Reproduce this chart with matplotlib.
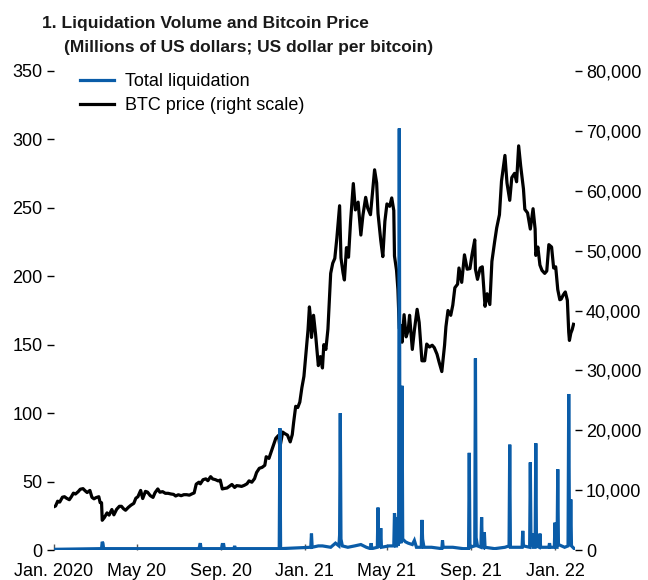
"""
Liquidation volume vs. Bitcoin price, Jan 2020 - Jan 2022
"""
import matplotlib
matplotlib.use('Agg')
import matplotlib.pyplot as plt
from matplotlib.lines import Line2D
import pandas as pd

# ── Fonts / colours ───────────────────────────────────────────────────────
plt.rcParams['font.family'] = ['Liberation Sans', 'DejaVu Sans']
BLUE  = '#0a5ca8'
BLACK = '#000000'
INK   = '#1a1a1a'

# ══════════════════════════════════════════════════════════════════════════
# DATA
# ══════════════════════════════════════════════════════════════════════════

# BTC price (US dollar per bitcoin), right scale
btc_dates = [
    '2020-01-01', '2020-01-04', '2020-01-07', '2020-01-10', '2020-01-14', '2020-01-17',
    '2020-01-20', '2020-01-24', '2020-01-27', '2020-01-30', '2020-02-02', '2020-02-06',
    '2020-02-09', '2020-02-13', '2020-02-16', '2020-02-19', '2020-02-23', '2020-02-26',
    '2020-02-29', '2020-03-03', '2020-03-07', '2020-03-09', '2020-03-11', '2020-03-12',
    '2020-03-15', '2020-03-19', '2020-03-22', '2020-03-26', '2020-03-29', '2020-04-02',
    '2020-04-06', '2020-04-09', '2020-04-12', '2020-04-15', '2020-04-19', '2020-04-23',
    '2020-04-27', '2020-04-30', '2020-05-03', '2020-05-07', '2020-05-10', '2020-05-14',
    '2020-05-17', '2020-05-21', '2020-05-25', '2020-05-28', '2020-06-01', '2020-06-04',
    '2020-06-08', '2020-06-12', '2020-06-16', '2020-06-20', '2020-06-24', '2020-06-27',
    '2020-07-01', '2020-07-05', '2020-07-09', '2020-07-13', '2020-07-17', '2020-07-21',
    '2020-07-24', '2020-07-27', '2020-07-31', '2020-08-02', '2020-08-06', '2020-08-10',
    '2020-08-13', '2020-08-17', '2020-08-20', '2020-08-24', '2020-08-28', '2020-08-31',
    '2020-09-03', '2020-09-06', '2020-09-10', '2020-09-14', '2020-09-17', '2020-09-21',
    '2020-09-24', '2020-09-28', '2020-10-01', '2020-10-05', '2020-10-09', '2020-10-12',
    '2020-10-16', '2020-10-20', '2020-10-23', '2020-10-27', '2020-10-31', '2020-11-04',
    '2020-11-06', '2020-11-10', '2020-11-13', '2020-11-17', '2020-11-20', '2020-11-24',
    '2020-11-26', '2020-11-30', '2020-12-03', '2020-12-07', '2020-12-11', '2020-12-14',
    '2020-12-16', '2020-12-19', '2020-12-22', '2020-12-25', '2020-12-28', '2020-12-31',
    '2021-01-03', '2021-01-06', '2021-01-08', '2021-01-10', '2021-01-11', '2021-01-14',
    '2021-01-17', '2021-01-21', '2021-01-24', '2021-01-27', '2021-01-29', '2021-02-01',
    '2021-02-04', '2021-02-08', '2021-02-11', '2021-02-14', '2021-02-17', '2021-02-21',
    '2021-02-23', '2021-02-26', '2021-02-28', '2021-03-03', '2021-03-06', '2021-03-09',
    '2021-03-13', '2021-03-16', '2021-03-20', '2021-03-24', '2021-03-27', '2021-03-31',
    '2021-04-03', '2021-04-07', '2021-04-10', '2021-04-13', '2021-04-16', '2021-04-18',
    '2021-04-22', '2021-04-25', '2021-04-28', '2021-05-01', '2021-05-05', '2021-05-08',
    '2021-05-11', '2021-05-12', '2021-05-15', '2021-05-17', '2021-05-19', '2021-05-22',
    '2021-05-23', '2021-05-26', '2021-05-29', '2021-06-01', '2021-06-03', '2021-06-07',
    '2021-06-10', '2021-06-14', '2021-06-17', '2021-06-21', '2021-06-25', '2021-06-28',
    '2021-07-02', '2021-07-06', '2021-07-09', '2021-07-13', '2021-07-16', '2021-07-20',
    '2021-07-24', '2021-07-26', '2021-07-29', '2021-08-02', '2021-08-05', '2021-08-08',
    '2021-08-12', '2021-08-14', '2021-08-18', '2021-08-22', '2021-08-26', '2021-08-30',
    '2021-09-02', '2021-09-06', '2021-09-07', '2021-09-10', '2021-09-14', '2021-09-17',
    '2021-09-21', '2021-09-24', '2021-09-28', '2021-10-01', '2021-10-05', '2021-10-08',
    '2021-10-12', '2021-10-15', '2021-10-20', '2021-10-23', '2021-10-27', '2021-10-30',
    '2021-11-03', '2021-11-06', '2021-11-09', '2021-11-12', '2021-11-16', '2021-11-18',
    '2021-11-22', '2021-11-26', '2021-11-30', '2021-12-03', '2021-12-04', '2021-12-07',
    '2021-12-10', '2021-12-13', '2021-12-17', '2021-12-20', '2021-12-23', '2021-12-27',
    '2021-12-30', '2022-01-02', '2022-01-05', '2022-01-08', '2022-01-10', '2022-01-13',
    '2022-01-16', '2022-01-19', '2022-01-21', '2022-01-22', '2022-01-24', '2022-01-26',
    '2022-01-28',
]
btc_price = [
    7200, 7350, 8150, 8000, 8820, 8900,
    8650, 8400, 8900, 9500, 9350, 9750,
    10150, 10250, 9900, 9600, 9950, 8800,
    8550, 8750, 8900, 7900, 7900, 4970,
    5400, 6200, 5830, 6760, 5880, 6800,
    7300, 7300, 6900, 6640, 7120, 7500,
    7790, 8650, 8900, 9950, 8600, 9790,
    9670, 9080, 8790, 9580, 10200, 9650,
    9750, 9470, 9470, 9360, 9290, 9020,
    9230, 9070, 9240, 9240, 9160, 9390,
    9540, 11000, 11330, 11050, 11750, 11880,
    11580, 12250, 11870, 11750, 11540, 11680,
    10200, 10280, 10360, 10700, 10950, 10450,
    10750, 10700, 10620, 10800, 11060, 11550,
    11320, 11920, 12950, 13650, 13800, 14150,
    15580, 15300, 16300, 17650, 18650, 19150,
    17150, 19700, 19450, 19190, 18060, 19270,
    21300, 24000, 23800, 24700, 27100, 29000,
    32800, 36800, 40600, 38200, 35500, 39200,
    36000, 30800, 32300, 30400, 34300, 33500,
    36900, 46200, 47900, 48700, 52100, 57500,
    48800, 46300, 45100, 50500, 48900, 54900,
    61200, 56800, 58100, 52600, 55900, 58900,
    57100, 56000, 59800, 63500, 61300, 56200,
    51700, 49000, 54900, 57800, 57400, 58800,
    56700, 49100, 46700, 43500, 37000, 37500,
    34700, 39300, 35600, 36700, 39200, 33500,
    36700, 40200, 38000, 31600, 31600, 34400,
    33900, 34200, 33800, 32700, 31400, 29800,
    34200, 37300, 40000, 39200, 40900, 43800,
    44400, 47100, 44700, 49300, 46900, 47000,
    49300, 51800, 46900, 45200, 47100, 47300,
    40700, 42800, 41000, 48200, 51500, 53800,
    56000, 61600, 65900, 61300, 58400, 62200,
    62900, 61500, 67500, 64100, 60300, 56900,
    56300, 53600, 57000, 53600, 49200, 50600,
    47600, 46700, 46200, 46600, 51000, 50600,
    47100, 47300, 43500, 41800, 41900, 42600,
    43100, 41700, 36400, 35000, 36200, 36800,
    37700,
]

# Total liquidation (millions of US dollars), left scale
liq_dates = [
    '2020-01-01', '2020-03-10', '2020-03-11', '2020-03-12', '2020-03-13', '2020-03-14',
    '2020-07-31', '2020-08-02', '2020-08-03', '2020-09-02', '2020-09-03', '2020-09-05',
    '2020-09-06', '2020-09-20', '2020-09-21', '2020-09-22', '2020-11-25', '2020-11-26',
    '2020-11-27', '2021-01-10', '2021-01-11', '2021-01-12', '2021-01-21', '2021-01-27',
    '2021-02-08', '2021-02-15', '2021-02-20', '2021-02-21', '2021-02-22', '2021-02-23',
    '2021-02-25', '2021-03-05', '2021-03-15', '2021-03-24', '2021-04-01', '2021-04-07',
    '2021-04-08', '2021-04-09', '2021-04-17', '2021-04-18', '2021-04-19', '2021-04-21',
    '2021-04-22', '2021-04-23', '2021-05-04', '2021-05-11', '2021-05-12', '2021-05-13',
    '2021-05-14', '2021-05-15', '2021-05-16', '2021-05-17', '2021-05-18', '2021-05-19',
    '2021-05-20', '2021-05-21', '2021-05-22', '2021-05-23', '2021-05-24', '2021-05-28',
    '2021-06-01', '2021-06-07', '2021-06-10', '2021-06-13', '2021-06-20', '2021-06-21',
    '2021-06-22', '2021-06-24', '2021-07-05', '2021-07-20', '2021-07-21', '2021-07-22',
    '2021-08-05', '2021-08-20', '2021-08-28', '2021-08-29', '2021-08-30', '2021-09-06',
    '2021-09-07', '2021-09-08', '2021-09-10', '2021-09-15', '2021-09-16', '2021-09-17',
    '2021-09-19', '2021-09-20', '2021-09-21', '2021-10-05', '2021-10-20', '2021-10-26',
    '2021-10-27', '2021-10-28', '2021-11-10', '2021-11-14', '2021-11-15', '2021-11-16',
    '2021-11-25', '2021-11-26', '2021-11-27', '2021-11-28', '2021-11-29', '2021-11-30',
    '2021-12-03', '2021-12-04', '2021-12-05', '2021-12-09', '2021-12-10', '2021-12-11',
    '2021-12-23', '2021-12-24', '2021-12-25', '2021-12-31', '2022-01-01', '2022-01-02',
    '2022-01-04', '2022-01-05', '2022-01-06', '2022-01-15', '2022-01-20', '2022-01-21',
    '2022-01-22', '2022-01-23', '2022-01-24', '2022-01-25', '2022-01-29',
]
liq_value = [
    0.5, 1, 1, 6, 5, 1,
    1, 5, 1, 1, 4, 4,
    1, 1, 3, 1, 1, 89,
    1, 2, 12, 2, 3, 3,
    2, 5, 3, 11, 100, 8,
    3, 2, 3, 4, 2, 1,
    5, 1, 2, 31, 4, 2,
    16, 2, 3, 3, 27, 20,
    3, 3, 24, 3, 10, 308,
    30, 6, 5, 120, 8, 6,
    5, 4, 7, 2, 2, 22,
    8, 2, 2, 1, 7, 2,
    2, 1, 1, 71, 2, 3,
    140, 9, 3, 2, 24, 3,
    2, 13, 2, 1, 2, 3,
    77, 2, 2, 2, 14, 3,
    2, 64, 5, 3, 12, 2,
    2, 78, 3, 2, 12, 2,
    2, 5, 2, 2, 20, 2,
    2, 59, 4, 2, 3, 114,
    20, 3, 37, 3, 1,
]

left_ticks  = [0, 50, 100, 150, 200, 250, 300, 350]
right_ticks = [0, 10000, 20000, 30000, 40000, 50000, 60000, 70000, 80000]
x_ticks     = ['2020-01-01', '2020-05-01', '2020-09-01', '2021-01-01',
               '2021-05-01', '2021-09-01', '2022-01-01']
x_labels    = ['Jan. 2020', 'May 20', 'Sep. 20', 'Jan. 21',
               'May 21', 'Sep. 21', 'Jan. 22']

btc_x = pd.to_datetime(btc_dates)
liq_x = pd.to_datetime(liq_dates)

# ══════════════════════════════════════════════════════════════════════════
# Figure
# ══════════════════════════════════════════════════════════════════════════
fig = plt.figure(figsize=(6.48, 5.8), dpi=100, facecolor='white')
ax = fig.add_axes([0.0826, 0.0517, 0.8046, 0.8259])
ax2 = ax.twinx()

# liquidation drawn above the price line
ax.set_zorder(ax2.get_zorder() + 1)
ax.patch.set_visible(False)

ax2.plot(btc_x, btc_price, color=BLACK, lw=2.3, solid_joinstyle='round')
ax.plot(liq_x, liq_value, color=BLUE, lw=2.3, solid_joinstyle='miter')

ax.set_xlim(pd.Timestamp('2020-01-01'), pd.Timestamp('2022-01-30'))
ax.set_ylim(0, 350)
ax2.set_ylim(0, 80000)

ax.set_yticks(left_ticks)
ax.set_yticklabels([str(t) for t in left_ticks])
ax2.set_yticks(right_ticks)
ax2.set_yticklabels([f'{t:,}' for t in right_ticks])

ax.set_xticks(pd.to_datetime(x_ticks))
ax.set_xticklabels(x_labels)

for a in (ax, ax2):
    for sp in a.spines.values():
        sp.set_visible(False)

ax.tick_params(axis='y', direction='out', length=5, width=1.0, colors=BLACK,
               labelsize=13, pad=3)
ax2.tick_params(axis='y', direction='out', length=5, width=1.0, colors=BLACK,
                labelsize=13, pad=3)
ax.tick_params(axis='x', direction='in', length=4, width=1.0, color='#555555',
               labelcolor=BLACK, labelsize=13, pad=9)

# Legend
handles = [Line2D([], [], color=BLUE, lw=2.3),
           Line2D([], [], color=BLACK, lw=2.3)]
ax.legend(handles, ['Total liquidation', 'BTC price (right scale)'],
          loc='upper left', bbox_to_anchor=(0.05, 0.995), frameon=False,
          fontsize=13, handlelength=1.9, handletextpad=0.6,
          labelspacing=0.38, borderpad=0, borderaxespad=0)

# ── Title ────────────────────────────────────────────────────────────────
fig.text(42 / 648, 1 - 28 / 580, '1. Liquidation Volume and Bitcoin Price',
         fontweight='bold', fontsize=12.5, color=INK,
         ha='left', va='baseline')
fig.text(64 / 648, 1 - 52 / 580, '(Millions of US dollars; US dollar per bitcoin)',
         fontweight='bold', fontsize=12.5, color=INK,
         ha='left', va='baseline')

plt.savefig('out.png', dpi=100, facecolor='white')
plt.close()
